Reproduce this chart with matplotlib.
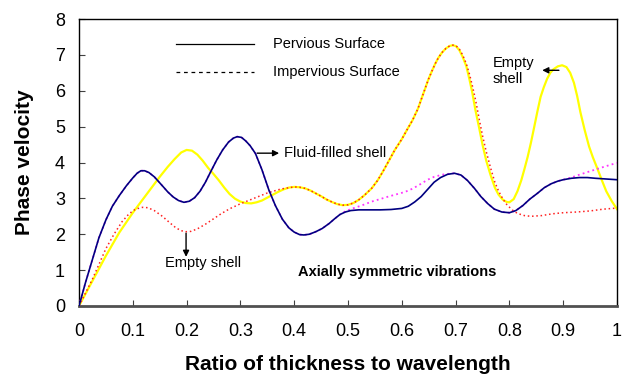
import matplotlib
matplotlib.use("Agg")
import matplotlib.pyplot as plt

plt.rcParams['font.family'] = ['Liberation Sans', 'DejaVu Sans']

# Fluid-filled shell, pervious surface (solid navy)
fluid_perv_x = [0, 0.012, 0.025, 0.037, 0.05, 0.062, 0.075, 0.088, 0.1, 0.108, 0.115, 0.122, 0.13,
                0.14, 0.155, 0.165, 0.175, 0.185, 0.195, 0.205, 0.215, 0.225, 0.235, 0.245, 0.256,
                0.267, 0.278, 0.287, 0.294, 0.302, 0.31, 0.318, 0.328, 0.34, 0.353, 0.365, 0.378,
                0.39, 0.4, 0.41, 0.418, 0.428, 0.44, 0.452, 0.465, 0.475, 0.485, 0.495, 0.505,
                0.52, 0.54, 0.56, 0.58, 0.6, 0.612, 0.624, 0.636, 0.648, 0.66, 0.672, 0.685,
                0.698, 0.71, 0.722, 0.735, 0.747, 0.76, 0.772, 0.786, 0.8, 0.812, 0.825, 0.838,
                0.852, 0.865, 0.878, 0.89, 0.9, 0.915, 0.93, 0.945, 0.96, 0.98, 1.0]
fluid_perv_y = [0, 0.65, 1.3, 1.9, 2.4, 2.78, 3.08, 3.35, 3.57, 3.7, 3.77, 3.77, 3.72,
                3.6, 3.35, 3.18, 3.04, 2.94, 2.89, 2.92, 3.02, 3.2, 3.45, 3.75, 4.07,
                4.35, 4.57, 4.68, 4.72, 4.7, 4.6, 4.47, 4.25, 3.8, 3.23, 2.8, 2.42,
                2.18, 2.06, 1.99, 1.98, 2.0, 2.07, 2.16, 2.3, 2.43, 2.55, 2.62, 2.66,
                2.68, 2.68, 2.68, 2.69, 2.72, 2.78, 2.9, 3.05, 3.25, 3.45, 3.58, 3.67,
                3.7, 3.65, 3.5, 3.28, 3.05, 2.85, 2.7, 2.62, 2.6, 2.66, 2.8, 2.98,
                3.14, 3.3, 3.41, 3.48, 3.52, 3.56, 3.58, 3.58, 3.56, 3.54, 3.52]

# Fluid-filled shell, impervious surface (dotted magenta)
fluid_imp_x = [0, 0.012, 0.025, 0.037, 0.05, 0.062, 0.075, 0.088, 0.1, 0.108, 0.115, 0.122, 0.13,
               0.14, 0.155, 0.165, 0.175, 0.185, 0.195, 0.205, 0.215, 0.225, 0.235, 0.245, 0.256,
               0.267, 0.278, 0.287, 0.294, 0.302, 0.31, 0.318, 0.328, 0.34, 0.353, 0.365, 0.378,
               0.39, 0.4, 0.41, 0.418, 0.428, 0.44, 0.452, 0.465, 0.475, 0.485, 0.495, 0.505,
               0.525, 0.544, 0.575, 0.606, 0.62, 0.635, 0.648, 0.66, 0.675, 0.69,
               0.698, 0.71, 0.722, 0.735, 0.747, 0.76, 0.772, 0.786, 0.8, 0.812, 0.825, 0.838,
               0.852, 0.865, 0.878, 0.89, 0.9, 0.915, 0.93, 0.957, 0.98, 1.0]
fluid_imp_y = [0, 0.65, 1.3, 1.9, 2.4, 2.78, 3.08, 3.35, 3.57, 3.7, 3.77, 3.77, 3.72,
               3.6, 3.35, 3.18, 3.04, 2.94, 2.89, 2.92, 3.02, 3.2, 3.45, 3.75, 4.07,
               4.35, 4.57, 4.68, 4.72, 4.7, 4.6, 4.47, 4.25, 3.8, 3.23, 2.8, 2.42,
               2.18, 2.06, 1.99, 1.98, 2.0, 2.07, 2.16, 2.3, 2.43, 2.55, 2.64, 2.7,
               2.8, 2.91, 3.05, 3.18, 3.27, 3.4, 3.52, 3.6, 3.66, 3.69,
               3.7, 3.65, 3.5, 3.28, 3.05, 2.85, 2.7, 2.62, 2.6, 2.66, 2.8, 2.98,
               3.14, 3.3, 3.41, 3.48, 3.52, 3.58, 3.66, 3.79, 3.9, 3.99]

# Empty shell, pervious surface (solid yellow)
empty_perv_x = [0, 0.025, 0.05, 0.075, 0.1, 0.125, 0.15, 0.165, 0.178, 0.19, 0.2, 0.21, 0.22,
                0.23, 0.24, 0.25, 0.26, 0.27, 0.28, 0.29, 0.3, 0.31, 0.32, 0.33, 0.34, 0.35,
                0.36, 0.37, 0.38, 0.39, 0.4, 0.41, 0.42, 0.43, 0.44, 0.45, 0.46, 0.47, 0.48,
                0.49, 0.5, 0.51, 0.52, 0.53, 0.544, 0.555, 0.565, 0.576, 0.587, 0.6, 0.61,
                0.62, 0.63, 0.64, 0.649, 0.656, 0.662, 0.668, 0.675, 0.682, 0.689, 0.695,
                0.701, 0.707, 0.713, 0.72, 0.726, 0.731, 0.737, 0.744, 0.75, 0.757, 0.765,
                0.773, 0.78, 0.788, 0.795, 0.8, 0.808, 0.815, 0.822, 0.828, 0.834, 0.84,
                0.846, 0.852, 0.858, 0.864, 0.87, 0.876, 0.882, 0.89, 0.898, 0.906, 0.913,
                0.92, 0.926, 0.932, 0.94, 0.948, 0.955, 0.963, 0.972, 0.98, 0.99, 1.0]
empty_perv_y = [0, 0.7, 1.4, 2.05, 2.6, 3.1, 3.6, 3.88, 4.1, 4.28, 4.35, 4.33, 4.22,
                4.05, 3.85, 3.68, 3.5, 3.3, 3.12, 2.99, 2.91, 2.87, 2.86, 2.89, 2.94, 3.02,
                3.1, 3.18, 3.25, 3.3, 3.32, 3.31, 3.28, 3.22, 3.14, 3.06, 2.97, 2.9, 2.84,
                2.81, 2.82, 2.87, 2.96, 3.08, 3.28, 3.5, 3.75, 4.05, 4.35, 4.65, 4.92,
                5.18, 5.5, 5.92, 6.3, 6.55, 6.75, 6.92, 7.07, 7.18, 7.25, 7.27,
                7.24, 7.13, 6.95, 6.68, 6.3, 5.95, 5.45, 4.95, 4.5, 4.05, 3.65,
                3.3, 3.1, 2.96, 2.9, 2.89, 2.98, 3.2, 3.5, 3.82, 4.16, 4.55,
                4.98, 5.42, 5.83, 6.1, 6.33, 6.5, 6.6, 6.68, 6.71, 6.66, 6.5,
                6.22, 5.85, 5.4, 4.9, 4.45, 4.15, 3.85, 3.5, 3.2, 2.93, 2.7]

# Empty shell, impervious surface (dotted red)
empty_imp_x = [0, 0.025, 0.05, 0.065, 0.08, 0.093, 0.105, 0.118, 0.128, 0.14, 0.155, 0.168, 0.18,
               0.19, 0.198, 0.208, 0.22, 0.235, 0.25, 0.265, 0.28, 0.3, 0.325, 0.35, 0.375,
               0.4, 0.41, 0.42, 0.43, 0.44, 0.45, 0.46, 0.47, 0.48, 0.49, 0.5, 0.51, 0.52,
               0.53, 0.544, 0.555, 0.565, 0.576, 0.587, 0.6, 0.61, 0.62, 0.63, 0.64, 0.649,
               0.656, 0.662, 0.668, 0.675, 0.682, 0.689, 0.695, 0.701, 0.707, 0.713, 0.72,
               0.726, 0.731, 0.737, 0.744, 0.75, 0.757, 0.765, 0.773, 0.78, 0.788, 0.795,
               0.805, 0.815, 0.828, 0.84, 0.86, 0.88, 0.9, 0.925, 0.95, 0.975, 1.0]
empty_imp_y = [0, 0.75, 1.6, 2.0, 2.35, 2.57, 2.7, 2.75, 2.74, 2.66, 2.5, 2.33, 2.18,
               2.1, 2.07, 2.08, 2.15, 2.28, 2.43, 2.58, 2.71, 2.85, 3.0, 3.15, 3.26,
               3.32, 3.31, 3.28, 3.22, 3.14, 3.06, 2.97, 2.9, 2.84, 2.81, 2.82, 2.87, 2.96,
               3.08, 3.28, 3.5, 3.75, 4.05, 4.35, 4.65, 4.92, 5.18, 5.5, 5.92, 6.3,
               6.55, 6.75, 6.92, 7.07, 7.18, 7.25, 7.27, 7.25, 7.16, 7.0, 6.75,
               6.45, 6.15, 5.75, 5.2, 4.75, 4.3, 3.85, 3.45, 3.2, 2.98, 2.83,
               2.68, 2.58, 2.52, 2.5, 2.52, 2.57, 2.6, 2.62, 2.65, 2.7, 2.73]

x_ticks = [0, 0.1, 0.2, 0.3, 0.4, 0.5, 0.6, 0.7, 0.8, 0.9, 1]
x_tick_labels = ['0', '0.1', '0.2', '0.3', '0.4', '0.5', '0.6', '0.7', '0.8', '0.9', '1']
y_ticks = [0, 1, 2, 3, 4, 5, 6, 7, 8]

fig = plt.figure(figsize=(6.23, 3.78), dpi=100)
ax = fig.add_axes([79 / 623, 72 / 378, 538 / 623, 287 / 378])

ax.plot(empty_perv_x, empty_perv_y, color='#ffff00', lw=1.6, zorder=2)
ax.plot(empty_imp_x, empty_imp_y, color='#ff2020', lw=1.1, ls=(0, (1, 1.8)), zorder=3)
ax.plot(fluid_imp_x, fluid_imp_y, color='#ff33ff', lw=1.3, ls=(0, (1, 1.8)), zorder=4)
ax.plot(fluid_perv_x, fluid_perv_y, color='#000080', lw=1.2, zorder=5)

# legend drawn by hand like the original
ax.plot([0.181, 0.325], [7.3, 7.3], color='black', lw=0.9)
ax.plot([0.181, 0.325], [6.52, 6.52], color='black', lw=0.9, ls=(0, (3, 3)))
ax.text(0.36, 7.3, 'Pervious Surface', fontsize=10.5, va='center')
ax.text(0.36, 6.52, 'Impervious Surface', fontsize=10.5, va='center')

arrow = dict(arrowstyle='-|>', color='black', lw=1, mutation_scale=9, shrinkA=0, shrinkB=0)
ax.annotate('', xy=(0.372, 4.26), xytext=(0.331, 4.26), arrowprops=arrow)
ax.text(0.381, 4.26, 'Fluid-filled shell', fontsize=10.5, va='center')
ax.annotate('', xy=(0.199, 1.37), xytext=(0.199, 2.03), arrowprops=arrow)
ax.text(0.23, 1.2, 'Empty shell', fontsize=10.5, ha='center', va='center')
ax.annotate('', xy=(0.861, 6.57), xytext=(0.892, 6.57), arrowprops=arrow)
ax.text(0.769, 6.55, 'Empty\nshell', fontsize=10.5, ha='left', va='center', linespacing=1.1)
ax.text(0.592, 0.955, 'Axially symmetric vibrations', fontsize=10.5, fontweight='bold',
        ha='center', va='center')

ax.set_xlim(0, 1)
ax.set_ylim(0, 8)
ax.set_xticks(x_ticks)
ax.set_xticklabels(x_tick_labels)
ax.set_yticks(y_ticks)
ax.tick_params(direction='in', length=4, labelsize=13, color='#404040')
ax.tick_params(axis='x', pad=12)
ax.tick_params(axis='y', pad=10)

for side in ['top', 'right']:
    ax.spines[side].set_linewidth(1.0)
    ax.spines[side].set_color('black')
ax.spines['bottom'].set_linewidth(2.0)
ax.spines['bottom'].set_color('#505050')
ax.spines['left'].set_linewidth(1.0)
ax.spines['left'].set_color('black')

ax.set_xlabel('Ratio of thickness to wavelength', fontsize=15, fontweight='bold', labelpad=11)
ax.set_ylabel('Phase velocity', fontsize=15, fontweight='bold', labelpad=15)

fig.savefig('out.png', dpi=100)
